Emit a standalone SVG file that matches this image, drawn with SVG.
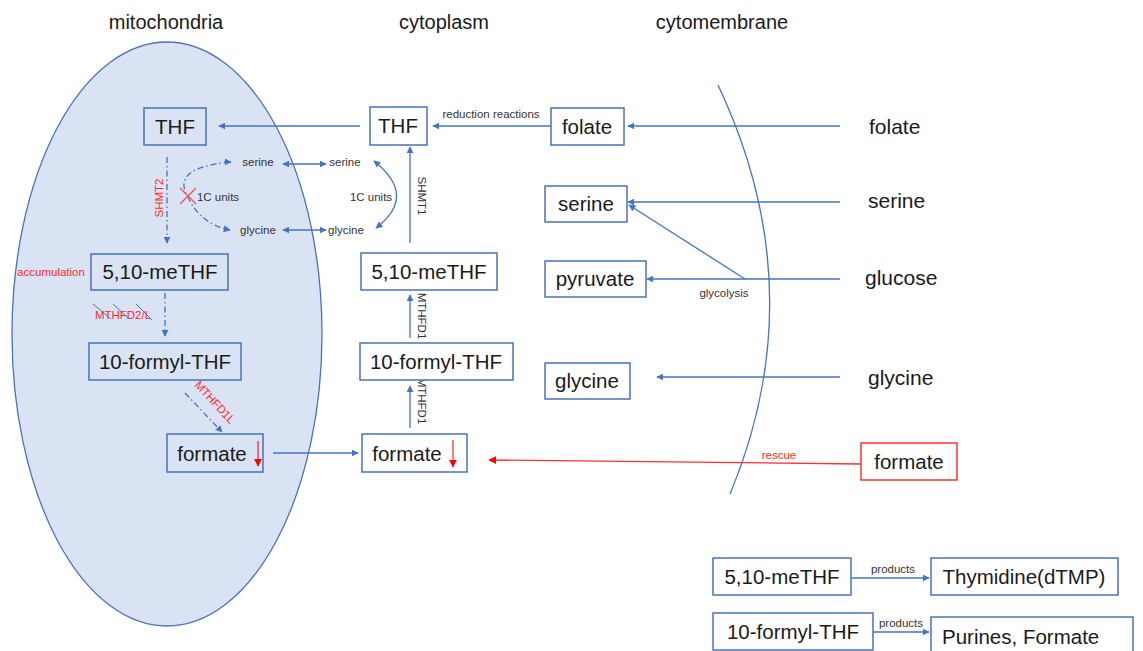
<svg xmlns="http://www.w3.org/2000/svg" width="1143" height="651" viewBox="0 0 1143 651">
<defs>
<marker id="ab" viewBox="0 0 10 10" refX="9" refY="5" markerWidth="7" markerHeight="7" markerUnits="userSpaceOnUse" orient="auto-start-reverse"><path d="M0,0 L10,5 L0,10 z" fill="#4472c4"/></marker>
<marker id="ar" viewBox="0 0 10 10" refX="9" refY="5" markerWidth="8" markerHeight="8" markerUnits="userSpaceOnUse" orient="auto-start-reverse"><path d="M0,0 L10,5 L0,10 z" fill="#ff0000"/></marker>
<style>
.box{fill:#ffffff;stroke:#4a72b8;stroke-width:1.5}
.mbox{fill:#dae3f3;stroke:#4a72b8;stroke-width:1.5}
.t{font-family:"Liberation Sans",Arial,sans-serif;font-size:20.5px;fill:#1a1a1a;text-anchor:middle}
.s{font-family:"Liberation Sans",Arial,sans-serif;font-size:11.5px;fill:#333;text-anchor:middle}
.h{font-family:"Liberation Sans",Arial,sans-serif;font-size:20px;fill:#1a1a1a;text-anchor:middle}
.r{font-family:"Liberation Sans",Arial,sans-serif;font-size:21px;fill:#1a1a1a}
.red{fill:#ff2a2a}
.c{fill:none;stroke:#4472c4;stroke-width:1.3}
.d{fill:none;stroke:#4472c4;stroke-width:1.3;stroke-dasharray:6 3 1.5 3}
.rl{fill:none;stroke:#ff3030;stroke-width:1.3}
</style>
</defs>
<rect width="1143" height="651" fill="#ffffff"/>
<!-- compartments -->
<g id="compartments">
<ellipse cx="167" cy="334" rx="155" ry="292" fill="#dae3f3" stroke="#4a72b8" stroke-width="1.3"/>
<path d="M718,85 Q815,290 730,494" fill="none" stroke="#4472c4" stroke-width="1.3"/>
<text class="h" x="166" y="29">mitochondria</text>
<text class="h" x="444" y="29">cytoplasm</text>
<text class="h" x="722" y="29">cytomembrane</text>
</g>
<!-- connectors -->
<g id="connectors">
<line class="c" x1="360" y1="126" x2="219" y2="126" marker-end="url(#ab)"/>
<line class="c" x1="551" y1="126" x2="433" y2="126" marker-end="url(#ab)"/>
<text class="s" x="491" y="118">reduction reactions</text>
<line class="c" x1="840" y1="126" x2="628" y2="126" marker-end="url(#ab)"/>
<line class="c" x1="840" y1="202" x2="628" y2="202" marker-end="url(#ab)"/>
<line class="c" x1="840" y1="279" x2="647" y2="279" marker-end="url(#ab)"/>
<line class="c" x1="745" y1="279" x2="629" y2="205" marker-end="url(#ab)"/>
<text class="s" x="724" y="297">glycolysis</text>
<line class="c" x1="840" y1="377" x2="657" y2="377" marker-end="url(#ab)"/>
<line class="rl" x1="861" y1="464" x2="489" y2="460" marker-end="url(#ar)"/>
<text class="s" x="779" y="459" style="fill:#ff2a2a">rescue</text>
<line class="c" x1="273" y1="453" x2="358" y2="453" marker-end="url(#ab)"/>
<line class="c" x1="410" y1="428" x2="410" y2="386" marker-end="url(#ab)"/>
<text class="s" transform="translate(418,401) rotate(90)">MTHFD1</text>
<line class="c" x1="410" y1="338" x2="410" y2="295" marker-end="url(#ab)"/>
<text class="s" transform="translate(418,316) rotate(90)">MTHFD1</text>
<line class="c" x1="410" y1="243" x2="410" y2="147" marker-end="url(#ab)"/>
<text class="s" transform="translate(418,196) rotate(90)">SHMT1</text>
<line class="c" x1="283" y1="164" x2="326" y2="164" marker-start="url(#ab)" marker-end="url(#ab)"/>
<line class="c" x1="283" y1="230" x2="326" y2="230" marker-start="url(#ab)" marker-end="url(#ab)"/>
<path class="c" d="M374,161 Q418,196 376,228" marker-start="url(#ab)" marker-end="url(#ab)"/>
<text class="s" x="371" y="201">1C units</text>
<!-- mitochondria internal -->
<line class="d" x1="167" y1="157" x2="167" y2="243" marker-end="url(#ab)"/>
<text class="s red" transform="translate(163,198) rotate(-90)" style="fill:#ff2a2a">SHMT2</text>
<path class="d" d="M230,162 Q170,168 188,197 Q200,224 230,230" marker-end="url(#ab)"/>
<line class="c" x1="224" y1="162" x2="231" y2="162" marker-end="url(#ab)"/>
<path d="M180,188 L196,204 M196,188 L180,204" stroke="#ff5050" stroke-width="1.3" fill="none"/>
<text class="s" x="218" y="201">1C units</text>
<text class="s" x="51" y="276" style="fill:#ff2a2a">accumulation</text>
<line class="d" x1="165" y1="293" x2="165" y2="336" marker-end="url(#ab)"/>
<text class="s" x="123" y="319" style="fill:#ff2a2a">MTHFD2/L</text>
<path d="M93,304 L111,319 M113,304 L129,319 M136,304 L152,320 M138,349 L155,360" stroke="#4472c4" stroke-width="1" fill="none"/>
<line class="d" x1="185" y1="393" x2="222" y2="432" marker-end="url(#ab)"/>
<text class="s" transform="translate(212,405) rotate(47)" style="fill:#ff2a2a">MTHFD1L</text>
<text class="s" x="258" y="166">serine</text>
<text class="s" x="258" y="234">glycine</text>
<text class="s" x="345" y="166">serine</text>
<text class="s" x="346" y="234">glycine</text>
<line class="c" x1="851" y1="578" x2="929" y2="578" marker-end="url(#ab)"/>
<text class="s" x="893" y="573">products</text>
<line class="c" x1="873" y1="632" x2="929" y2="632" marker-end="url(#ab)"/>
<text class="s" x="901" y="627">products</text>
</g>
<!-- nodes -->
<g id="mito-THF"><rect class="mbox" x="144" y="108" width="62" height="37"/><text class="t" x="175" y="134">THF</text></g>
<g id="mito-meTHF"><rect class="mbox" x="91" y="254" width="137" height="36"/><text class="t" x="160" y="279">5,10-meTHF</text></g>
<g id="mito-formylTHF"><rect class="mbox" x="89" y="343" width="152" height="37"/><text class="t" x="165" y="369">10-formyl-THF</text></g>
<g id="mito-formate"><rect class="mbox" x="167" y="434" width="96" height="38"/><text class="t" x="212" y="461">formate</text><line class="rl" x1="258" y1="441" x2="258" y2="466" marker-end="url(#ar)"/></g>
<g id="cyto-THF"><rect class="box" x="370" y="107" width="57" height="38"/><text class="t" x="398" y="133">THF</text></g>
<g id="cyto-meTHF"><rect class="box" x="361" y="253" width="136" height="37"/><text class="t" x="429" y="279">5,10-meTHF</text></g>
<g id="cyto-formylTHF"><rect class="box" x="360" y="343" width="153" height="37"/><text class="t" x="436" y="369">10-formyl-THF</text></g>
<g id="cyto-formate"><rect class="box" x="362" y="434" width="105" height="38"/><text class="t" x="407" y="461">formate</text><line class="rl" x1="453" y1="440" x2="453" y2="467" marker-end="url(#ar)"/></g>
<g id="folate-box"><rect class="box" x="551" y="108" width="73" height="37"/><text class="t" x="587" y="134">folate</text></g>
<g id="serine-box"><rect class="box" x="545" y="186" width="82" height="36"/><text class="t" x="586" y="211">serine</text></g>
<g id="pyruvate-box"><rect class="box" x="545" y="261" width="101" height="36"/><text class="t" x="595" y="286">pyruvate</text></g>
<g id="glycine-box"><rect class="box" x="545" y="363" width="85" height="36"/><text class="t" x="587" y="388">glycine</text></g>
<g id="ext-folate"><text class="r" x="869" y="134">folate</text></g>
<g id="ext-serine"><text class="r" x="868" y="208">serine</text></g>
<g id="ext-glucose"><text class="r" x="865" y="285">glucose</text></g>
<g id="ext-glycine"><text class="r" x="868" y="385">glycine</text></g>
<g id="ext-formate"><rect x="861" y="443" width="96" height="37" fill="#fff" stroke="#ff3030" stroke-width="1.5"/><text class="t" x="909" y="469">formate</text></g>
<g id="leg-meTHF"><rect class="box" x="713" y="558" width="138" height="37"/><text class="t" x="782" y="584">5,10-meTHF</text></g>
<g id="leg-dTMP"><rect class="box" x="931" y="558" width="187" height="37"/><text class="t" x="1024" y="584">Thymidine(dTMP)</text></g>
<g id="leg-formylTHF"><rect class="box" x="713" y="613" width="160" height="37"/><text class="t" x="793" y="639">10-formyl-THF</text></g>
<g id="leg-purines"><rect class="box" x="931" y="617" width="202" height="45"/><text class="t" x="942" y="644" style="text-anchor:start">Purines, Formate</text></g>
</svg>
